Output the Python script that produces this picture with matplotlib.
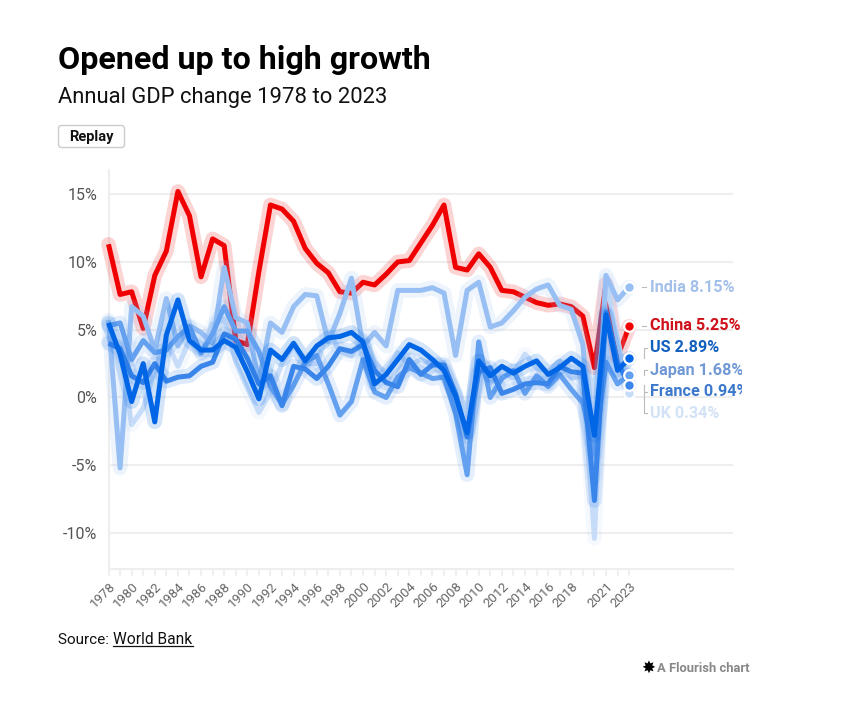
"""Annual GDP change 1978-2023, six economies, Flourish style line chart."""

import matplotlib

matplotlib.use("Agg")
import matplotlib.pyplot as plt
from matplotlib.lines import Line2D
from matplotlib.patches import FancyBboxPatch
from matplotlib.transforms import Bbox

plt.rcParams["font.family"] = ["Roboto", "DejaVu Sans"]

W, H = 850, 709

years = list(range(1978, 2024))
china = [11.3, 7.6, 7.8, 5.1, 9.0, 10.8, 15.2, 13.4, 8.9, 11.7, 11.2, 4.2, 3.9, 9.3, 14.2, 13.9,
         13.0, 11.0, 9.9, 9.2, 7.8, 7.7, 8.5, 8.3, 9.1, 10.0, 10.1, 11.4, 12.7, 14.2, 9.6, 9.4,
         10.6, 9.6, 7.9, 7.8, 7.4, 7.0, 6.8, 6.9, 6.7, 6.0, 2.2, 8.4, 3.0, 5.25]
india = [5.7, -5.2, 6.7, 6.0, 3.5, 7.3, 3.8, 5.3, 4.8, 4.0, 9.6, 5.9, 5.5, 1.1, 5.5, 4.8,
         6.7, 7.6, 7.5, 4.1, 6.2, 8.8, 3.8, 4.8, 3.8, 7.9, 7.9, 7.9, 8.1, 7.7, 3.1, 7.9,
         8.5, 5.2, 5.5, 6.4, 7.4, 8.0, 8.3, 6.8, 6.5, 3.9, -5.8, 9.0, 7.2, 8.15]
us = [5.5, 3.2, -0.3, 2.5, -1.8, 4.6, 7.2, 4.2, 3.5, 3.5, 4.2, 3.7, 1.9, -0.1, 3.5, 2.8,
      4.0, 2.7, 3.8, 4.4, 4.5, 4.8, 4.1, 1.0, 1.7, 2.8, 3.9, 3.5, 2.8, 2.0, 0.1, -2.6,
      2.7, 1.6, 2.3, 1.8, 2.3, 2.7, 1.7, 2.2, 2.9, 2.3, -2.8, 6.1, 2.0, 2.89]
france = [4.0, 3.6, 1.6, 1.1, 2.5, 1.2, 1.5, 1.6, 2.3, 2.6, 4.7, 4.3, 2.9, 1.0, 1.6, -0.6,
          2.3, 2.1, 1.4, 2.3, 3.6, 3.4, 3.9, 2.0, 1.1, 0.8, 2.8, 1.7, 2.4, 2.4, 0.3, -2.9,
          1.9, 2.2, 0.3, 0.6, 1.0, 1.1, 1.0, 2.3, 1.9, 1.8, -7.6, 6.3, 2.6, 0.94]
japan = [5.3, 5.5, 2.8, 4.2, 3.3, 3.5, 4.5, 5.2, 3.3, 4.7, 6.7, 4.9, 4.9, 3.4, 0.8, -0.5,
         0.9, 2.6, 3.1, 1.0, -1.3, -0.3, 2.8, 0.4, 0.0, 1.5, 2.2, 1.8, 1.4, 1.5, -1.2, -5.7,
         4.1, 0.0, 1.4, 2.0, 0.3, 1.6, 0.8, 1.7, 0.6, -0.4, -4.2, 2.6, 1.0, 1.68]
uk = [4.2, 3.7, -2.0, -0.8, 2.0, 4.2, 2.3, 4.2, 3.2, 5.4, 5.8, 2.6, 0.7, -1.1, 0.4, 2.5,
      3.9, 2.5, 2.5, 4.9, 3.4, 3.1, 4.3, 2.6, 1.8, 3.3, 2.4, 2.8, 2.4, 2.6, -0.2, -4.6,
      2.2, 1.1, 1.5, 1.8, 3.2, 2.2, 1.9, 2.7, 1.4, 1.6, -10.4, 8.7, 4.3, 0.34]

year_labels = [str(y) for y in range(1978, 2020, 2)] + ["2021", "2023"]
year_label_pos = list(range(1978, 2020, 2)) + [2021, 2023]
pct_ticks = [-10, -5, 0, 5, 10, 15]

# bottom to top drawing order
names = ["China", "UK", "India", "Japan", "France", "US"]
values = [china, uk, india, japan, france, us]
colors = ["#f00000", "#c6dcf9", "#97bff3", "#63a0ef", "#3a85ea", "#0066e6"]
label_colors = ["#d0101a", "#d3e2f6", "#a3c0ea", "#7099d6", "#3c78cc", "#1160be"]
label_px = [326, 413, 287, 370, 391.5, 348]


def fx(x):
    return x / W


def fy(y):
    return 1 - y / H


fig = plt.figure(figsize=(W / 100, H / 100), dpi=100, facecolor="white")
ax = fig.add_axes([fx(108.5), fy(569), (733 - 108.5) / W, (569 - 170) / H])
ax.set_xlim(1978, 2031.98)
ax.set_ylim(-12.65, 16.78)
ax.set_facecolor("none")

for s in ["top", "right"]:
    ax.spines[s].set_visible(False)
for s in ["left", "bottom"]:
    ax.spines[s].set_color("#eeeeee")
    ax.spines[s].set_linewidth(1.5)

ax.set_yticks(pct_ticks)
ax.set_yticklabels([f"{v}%" for v in pct_ticks], fontsize=11.5, color="#555555")
ax.tick_params(axis="y", length=0, pad=8)
ax.grid(axis="y", color="#eeeeee", lw=1.5)
ax.set_axisbelow(True)

ax.set_xticks(years, minor=True)
ax.set_xticks(year_label_pos)
ax.set_xticklabels(year_labels, rotation=45, ha="right", rotation_mode="anchor",
                   fontsize=9.5, color="#666666")
ax.tick_params(axis="x", which="both", length=5, width=1.2, color="#eeeeee", pad=3)

z = 3
for name, vals, col in zip(names, values, colors):
    ax.plot(years, vals, color=col, lw=10.5, alpha=0.17, solid_joinstyle="round",
            solid_capstyle="round", zorder=z, clip_on=False)
    ax.plot(years, vals, color=col, lw=3.6, solid_joinstyle="round",
            solid_capstyle="butt", zorder=z + 0.1, clip_on=False)
    z += 1

# end dots, labels and their connectors
dot_order = ["India", "China", "UK", "Japan", "France", "US"]
for i, name in enumerate(dot_order):
    k = names.index(name)
    ax.scatter(years[-1], values[k][-1], s=58, color=colors[k], edgecolors="white",
               linewidths=1.6, zorder=20 + i, clip_on=False)

clip = Bbox([[0, 0], [742, H]])
for name, vals, col, ly in zip(names, values, label_colors, label_px):
    fig.text(fx(650), fy(ly), f"{name} {vals[-1]:.2f}%", color=col, fontsize=11.7,
             fontweight="bold", va="center", ha="left", clip_on=True, clip_box=clip)
    dot_y = ax.transData.transform((years[-1], vals[-1]))[1]
    dot_py = H - dot_y
    if abs(dot_py - ly) < 2:
        xs, ys = [642, 646], [ly, ly]
    else:
        # small elbow from the dot height to the label height
        xs, ys = [643.5, 643.5, 646.5], [dot_py, ly, ly]
    fig.add_artist(Line2D([fx(a) for a in xs], [fy(b) for b in ys], color="#bbbbbb", lw=0.8))

# heading block
fig.text(fx(58), fy(60), "Opened up to high growth", fontsize=23.2, fontweight="bold",
         color="#000000", va="center", ha="left")
fig.text(fx(58), fy(97), "Annual GDP change 1978 to 2023", fontsize=15.8, color="#111111",
         va="center", ha="left")

fig.add_artist(FancyBboxPatch((58.5, H - 147.5), 66, 22, boxstyle="round,pad=0,rounding_size=3",
                              transform=None, fc="white", ec="#cccccc", lw=1))
fig.text(fx(91.5), fy(137), "Replay", fontsize=10.5, fontweight="bold", color="#111111",
         va="center", ha="center")

# footer
fig.text(fx(58), fy(640), "Source: ", fontsize=11, color="#111111", va="center", ha="left")
fig.text(fx(113.5), fy(640), "World Bank", fontsize=11.2, color="#111111", va="center", ha="left")
fig.add_artist(Line2D([fx(113.5), fx(193)], [fy(646), fy(646)], color="#111111", lw=0.9))

fig.text(fx(648), fy(668), "\u2738", fontsize=12, color="#000000", va="center", ha="center",
         family="DejaVu Sans")
fig.text(fx(657), fy(668), "A Flourish chart", fontsize=9.4, fontweight="bold", color="#888888",
         va="center", ha="left")

fig.savefig("out.png", dpi=100, facecolor="white")
plt.close(fig)
